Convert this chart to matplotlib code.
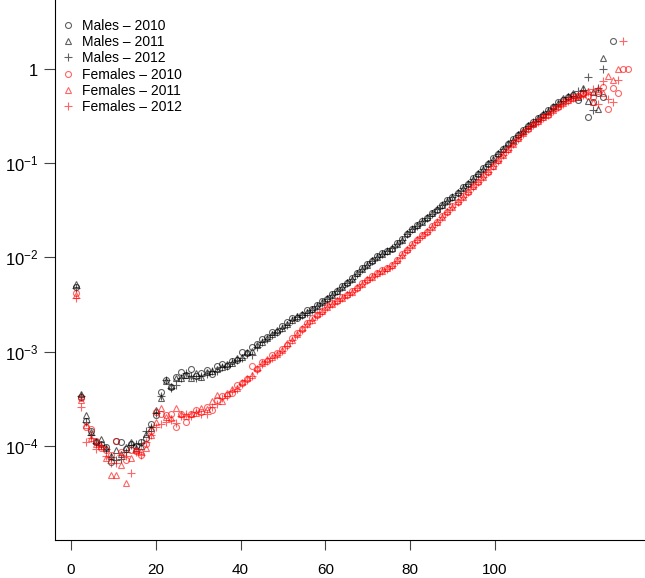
import numpy as np
import matplotlib
matplotlib.use("Agg")
import matplotlib.pyplot as plt

plt.rcParams["font.family"] = ["Liberation Sans", "DejaVu Sans"]
plt.rcParams["mathtext.fontset"] = "custom"
plt.rcParams["mathtext.rm"] = "Liberation Sans"
plt.rcParams["mathtext.it"] = "Liberation Sans"

nan = np.nan
ages = np.arange(0, 111)

males_2010 = [
    4.8e-3, 3.3e-4, 1.85e-4, 1.45e-4, 1.1e-4, 1.05e-4, 9.8e-5, 6.8e-5, 1.12e-4, 1.1e-4,
    9.3e-5, 1.05e-4, 1.0e-4, 1.1e-4, 1.2e-4, 1.7e-4, 2.1e-4, 3.7e-4, 5.0e-4, 4.2e-4,
    5.4e-4, 6.1e-4, 5.6e-4, 6.6e-4, 5.5e-4, 5.9e-4, 6.4e-4, 5.8e-4, 7.0e-4, 7.4e-4,
    7.1e-4, 7.9e-4, 8.2e-4, 1.0e-3, 9.6e-4, 1.13e-3, 1.2e-3, 1.35e-3, 1.42e-3, 1.6e-3,
    1.62e-3, 1.85e-3, 2.05e-3, 2.3e-3, 2.3e-3, 2.45e-3, 2.75e-3, 2.8e-3, 3.15e-3, 3.45e-3,
    3.65e-3, 4.05e-3, 4.4e-3, 4.95e-3, 5.4e-3, 6.05e-3, 6.75e-3, 7.7e-3, 8.5e-3, 9.2e-3,
    1.03e-2, 1.12e-2, 1.18e-2, 1.24e-2, 1.42e-2, 1.57e-2, 1.78e-2, 2.02e-2, 2.2e-2, 2.43e-2,
    2.62e-2, 2.97e-2, 3.22e-2, 3.62e-2, 4.05e-2, 4.4e-2, 4.85e-2, 5.55e-2, 6.05e-2, 6.95e-2,
    7.75e-2, 8.85e-2, 9.8e-2, 0.113, 0.125, 0.143, 0.158, 0.182, 0.199, 0.227,
    0.248, 0.272, 0.30, 0.325, 0.365, 0.395, 0.445, 0.47, 0.50, 0.535,
    0.47, 0.55, 0.31, 0.45, 0.55, 0.51, nan, 2.0, nan, nan, nan,
]

males_2011 = [
    5.2e-3, 3.55e-4, 2.1e-4, 1.4e-4, 1.12e-4, 1.18e-4, 9.5e-5, 7.8e-5, 9.0e-5, 8.2e-5,
    9.6e-5, 1.1e-4, 9.5e-5, 1.0e-4, 1.35e-4, 1.55e-4, 2.4e-4, 3.2e-4, 4.9e-4, 4.3e-4,
    5.2e-4, 5.3e-4, 5.7e-4, 5.3e-4, 5.9e-4, 5.4e-4, 6.0e-4, 6.2e-4, 6.5e-4, 6.8e-4,
    7.3e-4, 7.6e-4, 8.5e-4, 8.8e-4, 1.0e-3, 1.02e-3, 1.17e-3, 1.28e-3, 1.4e-3, 1.52e-3,
    1.68e-3, 1.78e-3, 1.98e-3, 2.18e-3, 2.38e-3, 2.52e-3, 2.62e-3, 2.85e-3, 3.05e-3, 3.38e-3,
    3.72e-3, 3.95e-3, 4.45e-3, 4.85e-3, 5.45e-3, 5.95e-3, 6.85e-3, 7.55e-3, 8.3e-3, 9.4e-3,
    1.01e-2, 1.09e-2, 1.16e-2, 1.27e-2, 1.39e-2, 1.53e-2, 1.82e-2, 1.98e-2, 2.22e-2, 2.38e-2,
    2.67e-2, 2.93e-2, 3.28e-2, 3.58e-2, 3.98e-2, 4.42e-2, 4.95e-2, 5.45e-2, 6.15e-2, 6.85e-2,
    7.85e-2, 8.75e-2, 0.100, 0.111, 0.127, 0.141, 0.162, 0.178, 0.203, 0.222,
    0.252, 0.268, 0.305, 0.335, 0.355, 0.405, 0.435, 0.49, 0.52, 0.55,
    0.50, 0.63, 0.46, 0.57, 0.38, 1.3, nan, nan, nan, nan, nan,
]

males_2012 = [
    4.75e-3, 3.4e-4, 1.8e-4, 1.3e-4, 1.08e-4, 1.02e-4, 9.2e-5, 7.6e-5, 7.0e-5, 7.3e-5,
    8.5e-5, 1.02e-4, 1.05e-4, 1.08e-4, 1.45e-4, 1.6e-4, 2.25e-4, 3.4e-4, 4.95e-4, 4.1e-4,
    4.4e-4, 5.3e-4, 5.9e-4, 5.5e-4, 5.2e-4, 5.5e-4, 5.8e-4, 6.2e-4, 6.3e-4, 6.9e-4,
    7.0e-4, 7.7e-4, 8.1e-4, 8.5e-4, 9.5e-4, 9.3e-4, 1.12e-3, 1.25e-3, 1.37e-3, 1.5e-3,
    1.63e-3, 1.78e-3, 1.92e-3, 2.15e-3, 2.32e-3, 2.45e-3, 2.6e-3, 2.78e-3, 3.08e-3, 3.32e-3,
    3.62e-3, 4.0e-3, 4.35e-3, 4.8e-3, 5.35e-3, 5.9e-3, 6.7e-3, 7.45e-3, 8.4e-3, 9.25e-3,
    1.0e-2, 1.08e-2, 1.17e-2, 1.26e-2, 1.38e-2, 1.54e-2, 1.77e-2, 1.99e-2, 2.18e-2, 2.41e-2,
    2.63e-2, 2.92e-2, 3.24e-2, 3.56e-2, 3.95e-2, 4.36e-2, 4.88e-2, 5.42e-2, 6.08e-2, 6.82e-2,
    7.72e-2, 8.72e-2, 9.75e-2, 0.109, 0.124, 0.140, 0.157, 0.177, 0.197, 0.221,
    0.247, 0.275, 0.298, 0.33, 0.36, 0.39, 0.43, 0.46, 0.50, 0.52,
    0.58, 0.60, 0.82, 0.37, 0.63, 1.0, nan, nan, nan, nan, nan,
]

females_2010 = [
    4.2e-3, 3.2e-4, 1.6e-4, 1.5e-4, 1.12e-4, 9.5e-5, 9.0e-5, 8.0e-5, 1.12e-4, 8.5e-5,
    7.0e-5, 9.0e-5, 8.8e-5, 8.0e-5, 1.05e-4, 1.45e-4, 2.3e-4, 2.2e-4, 2.1e-4, 2.2e-4,
    1.6e-4, 2.15e-4, 1.8e-4, 2.2e-4, 2.4e-4, 2.3e-4, 2.6e-4, 2.4e-4, 3.1e-4, 3.4e-4,
    3.5e-4, 3.6e-4, 4.4e-4, 4.6e-4, 5.1e-4, 7.0e-4, 6.5e-4, 7.8e-4, 8.0e-4, 9.1e-4,
    9.7e-4, 1.07e-3, 1.18e-3, 1.38e-3, 1.58e-3, 1.72e-3, 2.02e-3, 2.25e-3, 2.42e-3, 2.72e-3,
    3.02e-3, 3.3e-3, 3.48e-3, 3.8e-3, 3.98e-3, 4.4e-3, 4.75e-3, 5.35e-3, 5.75e-3, 6.35e-3,
    6.75e-3, 7.3e-3, 7.65e-3, 8.4e-3, 9.3e-3, 1.08e-2, 1.2e-2, 1.4e-2, 1.53e-2, 1.74e-2,
    1.88e-2, 2.15e-2, 2.35e-2, 2.72e-2, 3.02e-2, 3.52e-2, 3.85e-2, 4.45e-2, 4.95e-2, 5.75e-2,
    6.35e-2, 7.25e-2, 8.15e-2, 9.45e-2, 0.107, 0.125, 0.140, 0.163, 0.183, 0.212,
    0.232, 0.262, 0.278, 0.312, 0.328, 0.372, 0.398, 0.445, 0.465, 0.505,
    0.52, 0.56, 0.52, 0.50, 0.58, 0.65, 0.38, 0.63, 0.55, 1.0, 1.0,
]

females_2011 = [
    4.0e-3, 3.1e-4, 1.65e-4, 1.2e-4, 1.05e-4, 1.0e-4, 7.5e-5, 4.9e-5, 4.9e-5, 6.3e-5,
    4.0e-5, 7.5e-5, 9.0e-5, 8.7e-5, 9.5e-5, 1.3e-4, 1.8e-4, 2.5e-4, 2.0e-4, 1.95e-4,
    2.5e-4, 2.2e-4, 2.05e-4, 2.15e-4, 2.25e-4, 2.5e-4, 2.45e-4, 3.0e-4, 3.5e-4, 3.0e-4,
    3.6e-4, 4.0e-4, 4.1e-4, 4.8e-4, 5.3e-4, 5.6e-4, 6.7e-4, 7.5e-4, 8.3e-4, 8.7e-4,
    9.4e-4, 1.04e-3, 1.22e-3, 1.33e-3, 1.53e-3, 1.78e-3, 1.97e-3, 2.18e-3, 2.48e-3, 2.68e-3,
    2.98e-3, 3.22e-3, 3.52e-3, 3.72e-3, 4.05e-3, 4.32e-3, 4.85e-3, 5.25e-3, 5.85e-3, 6.25e-3,
    6.85e-3, 7.15e-3, 7.75e-3, 8.25e-3, 9.45e-3, 1.06e-2, 1.23e-2, 1.37e-2, 1.56e-2, 1.71e-2,
    1.92e-2, 2.1e-2, 2.4e-2, 2.68e-2, 3.08e-2, 3.47e-2, 3.93e-2, 4.38e-2, 5.05e-2, 5.68e-2,
    6.45e-2, 7.18e-2, 8.25e-2, 9.35e-2, 0.109, 0.123, 0.143, 0.161, 0.187, 0.208,
    0.237, 0.258, 0.283, 0.308, 0.334, 0.368, 0.405, 0.438, 0.472, 0.495,
    0.535, 0.54, 0.58, 0.45, 0.62, 0.55, 0.84, 0.76, 1.0, nan, nan,
]

females_2012 = [
    3.7e-3, 2.6e-4, 1.1e-4, 1.2e-4, 9.3e-5, 1.0e-4, 7.8e-5, 6.5e-5, 6.6e-5, 8.0e-5,
    7.8e-5, 5.2e-5, 8.5e-5, 8.0e-5, 1.1e-4, 1.3e-4, 1.6e-4, 1.7e-4, 1.8e-4, 1.9e-4,
    1.75e-4, 2.05e-4, 2.2e-4, 2.05e-4, 2.3e-4, 2.2e-4, 2.2e-4, 2.6e-4, 2.8e-4, 3.2e-4,
    3.4e-4, 3.8e-4, 4.0e-4, 4.5e-4, 5.0e-4, 5.5e-4, 6.4e-4, 7.3e-4, 8.0e-4, 8.6e-4,
    9.2e-4, 1.02e-3, 1.16e-3, 1.32e-3, 1.5e-3, 1.7e-3, 1.95e-3, 2.15e-3, 2.4e-3, 2.65e-3,
    2.95e-3, 3.2e-3, 3.45e-3, 3.7e-3, 3.95e-3, 4.3e-3, 4.7e-3, 5.2e-3, 5.7e-3, 6.2e-3,
    6.7e-3, 7.1e-3, 7.6e-3, 8.2e-3, 9.2e-3, 1.05e-2, 1.19e-2, 1.36e-2, 1.52e-2, 1.7e-2,
    1.87e-2, 2.09e-2, 2.35e-2, 2.66e-2, 3.0e-2, 3.44e-2, 3.85e-2, 4.35e-2, 4.95e-2, 5.62e-2,
    6.3e-2, 7.1e-2, 8.1e-2, 9.25e-2, 0.106, 0.121, 0.139, 0.158, 0.182, 0.205,
    0.23, 0.255, 0.275, 0.302, 0.326, 0.36, 0.392, 0.43, 0.462, 0.49,
    0.52, 0.53, 0.57, 0.62, 0.42, 0.75, 0.48, 0.45, 0.76, 2.0, nan,
]

series = [
    ("Males \u2013 2010", males_2010, "o", (0, 0, 0, 0.62)),
    ("Males \u2013 2011", males_2011, "^", (0, 0, 0, 0.62)),
    ("Males \u2013 2012", males_2012, "+", (0, 0, 0, 0.62)),
    ("Females \u2013 2010", females_2010, "o", (1, 0, 0, 0.6)),
    ("Females \u2013 2011", females_2011, "^", (1, 0, 0, 0.6)),
    ("Females \u2013 2012", females_2012, "+", (1, 0, 0, 0.6)),
]
marker_size = {"o": 4.3, "^": 4.8, "+": 5.8}

fig = plt.figure(figsize=(6.45, 5.78), dpi=100)
ax = fig.add_axes([55 / 645, 38 / 578, 590 / 645, 540 / 578])

for label, values, marker, color in series:
    ax.plot(ages, values, linestyle="none", marker=marker,
            markersize=marker_size[marker], markerfacecolor="none",
            markeredgecolor=color, markeredgewidth=0.8, label=label)

ax.set_yscale("log")
ax.set_ylim(1e-5, 10 ** 0.7325)
ax.set_xlim(-4.18, 113.35)

for side in ("top", "right"):
    ax.spines[side].set_visible(False)
for side in ("left", "bottom"):
    ax.spines[side].set_linewidth(0.8)

# age axis shown with its own tick scale
sec = ax.secondary_xaxis("bottom", functions=(lambda a: 1.179 + 1.184 * a,
                                               lambda v: (v - 1.179) / 1.184))
sec.set_xticks([0, 20, 40, 60, 80, 100])
sec.tick_params(axis="x", length=7.5, width=0.8, color="#444444",
                pad=9, labelsize=11)
sec.spines["bottom"].set_visible(False)
ax.tick_params(axis="x", bottom=False, labelbottom=False)

yticks = [1e-4, 1e-3, 1e-2, 1e-1, 1]
ylabels = [r"$10^{-4}$", r"$10^{-3}$", r"$10^{-2}$", r"$10^{-1}$", r"$1\,\;$"]
ax.set_yticks(yticks)
ax.set_yticklabels(ylabels)
ax.yaxis.set_minor_locator(matplotlib.ticker.NullLocator())
ax.tick_params(axis="y", length=8, width=0.8, color="#444444",
               pad=4, labelsize=12)

ax.legend(loc="upper left", bbox_to_anchor=(0.011, 0.965), frameon=False,
          fontsize=10, handlelength=1.0, handletextpad=0.5,
          labelspacing=0.16, borderpad=0, borderaxespad=0, markerscale=1.0)

fig.savefig("out.png", dpi=100)
